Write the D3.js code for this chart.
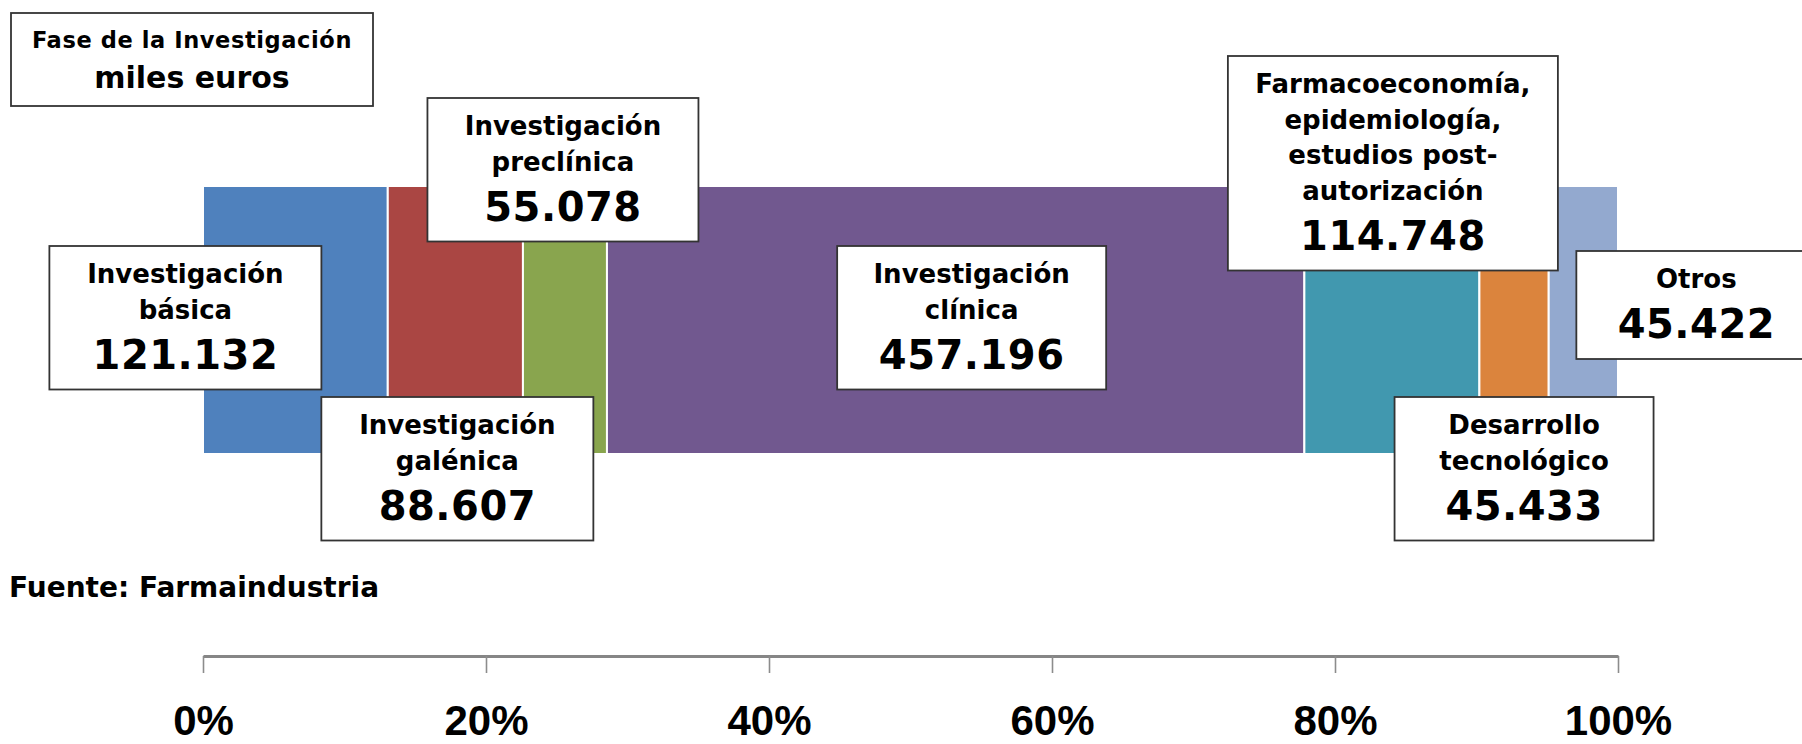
<!DOCTYPE html>
<html>
<head>
<meta charset="utf-8">
<script src="https://cdn.jsdelivr.net/npm/d3@7"></script>
<style>
    html, body { margin: 0; padding: 0; background: #fff; }
    svg { display: block; }
    .lbl { font-family: 'DejaVu Sans', sans-serif; font-weight: bold; fill: #000; }
    .tick text { font-family: 'Liberation Sans', Arial, sans-serif; font-weight: bold; font-size: 42px; fill: #000; }
</style>
</head>
<body>
<div id="chart"></div>
<script>
// fase de la investigacion, miles de euros
var categories = [
    ['Investigación', 'básica'],
    ['Investigación', 'galénica'],
    ['Investigación', 'preclínica'],
    ['Investigación', 'clínica'],
    ['Farmacoeconomía,', 'epidemiología,', 'estudios post-', 'autorización'],
    ['Desarrollo', 'tecnológico'],
    ['Otros']
];
var values = [121132, 88607, 55078, 457196, 114748, 45433, 45422];
var colors = ['#4F81BD', '#AA4643', '#89A54E', '#71588F', '#4198AF', '#DB843D', '#93A9CF'];
var tickValues = [0, 0.2, 0.4, 0.6, 0.8, 1];
var titleLines = ['Fase de la Investigación', 'miles euros'];
var source = 'Fuente: Farmaindustria';

// where each label box sits: offset from the segment centre, top, width
var boxLayout = [
    { dx: -110, top: 246, w: 272 },
    { dx: 2, top: 397, w: 272 },
    { dx: -2, top: 98, w: 271 },
    { dx: 16, top: 246, w: 269 },
    { dx: 1, top: 56, w: 330 },
    { dx: 10, top: 397, w: 259 },
    { dx: 113, top: 251, w: 240 }
];

var width = 1802, height = 744;
var svg = d3.select('#chart').append('svg')
    .attr('width', width)
    .attr('height', height);

var total = d3.sum(values);
var cum = 0;
var segments = values.map(function (v, i) {
    var d = { i: i, value: v, start: cum / total, end: (cum + v) / total };
    cum += v;
    return d;
});

var x = d3.scaleLinear().domain([0, 1]).range([203, 1618]);
var barTop = 186, barBottom = 454;

var es = d3.formatLocale({ decimal: ',', thousands: '.', grouping: [3], currency: ['', ' €'] });
var fmt = es.format(',d');

// stacked 100% bar
svg.append('g').selectAll('rect')
    .data(segments)
    .enter().append('rect')
    .attr('x', function (d) { return x(d.start); })
    .attr('y', barTop)
    .attr('width', function (d) { return x(d.end) - x(d.start); })
    .attr('height', barBottom - barTop)
    .attr('fill', function (d) { return colors[d.i]; })
    .attr('stroke', '#fff')
    .attr('stroke-width', 2);

// label boxes
var boxes = svg.append('g').selectAll('g')
    .data(segments)
    .enter().append('g')
    .attr('transform', function (d) {
        var b = boxLayout[d.i];
        var cx = x((d.start + d.end) / 2) + b.dx;
        return 'translate(' + cx + ',' + b.top + ')';
    });

boxes.append('rect')
    .attr('x', function (d) { return -boxLayout[d.i].w / 2; })
    .attr('y', 0)
    .attr('width', function (d) { return boxLayout[d.i].w; })
    .attr('height', function (d) { return 37 + (categories[d.i].length - 1) * 35.5 + 50 + 21; })
    .attr('fill', '#fff')
    .attr('stroke', '#333')
    .attr('stroke-width', 1.8);

boxes.each(function (d) {
    var g = d3.select(this);
    var lines = categories[d.i];
    lines.forEach(function (t, k) {
        g.append('text')
            .attr('class', 'lbl')
            .attr('text-anchor', 'middle')
            .attr('y', 37 + k * 35.5)
            .style('font-size', '26px')
            .text(t);
    });
    g.append('text')
        .attr('class', 'lbl')
        .attr('text-anchor', 'middle')
        .attr('y', 37 + (lines.length - 1) * 35.5 + 50)
        .style('font-size', '40px')
        .style('letter-spacing', '0.5px')
        .text(fmt(d.value));
});

// title box
var title = svg.append('g');
title.append('rect')
    .attr('x', 11).attr('y', 13)
    .attr('width', 362).attr('height', 93)
    .attr('fill', '#fff')
    .attr('stroke', '#333')
    .attr('stroke-width', 1.8);
title.append('text')
    .attr('class', 'lbl')
    .attr('x', 192).attr('y', 48)
    .attr('text-anchor', 'middle')
    .style('font-size', '22.5px')
    .style('letter-spacing', '0.6px')
    .text(titleLines[0]);
title.append('text')
    .attr('class', 'lbl')
    .attr('x', 192).attr('y', 88)
    .attr('text-anchor', 'middle')
    .style('font-size', '30px')
    .text(titleLines[1]);

svg.append('text')
    .attr('class', 'lbl')
    .attr('x', 9).attr('y', 597)
    .style('font-size', '28px')
    .text(source);

// percent axis
var axis = d3.axisBottom(x)
    .tickValues(tickValues)
    .tickFormat(d3.format('.0%'))
    .tickSize(17)
    .tickSizeOuter(0);

var ag = svg.append('g')
    .attr('transform', 'translate(0,656)')
    .call(axis);
ag.select('.domain')
    .attr('stroke', '#868686')
    .attr('stroke-width', 3);
ag.selectAll('.tick line')
    .attr('stroke', '#8c8c8c')
    .attr('stroke-width', 1.6);
ag.selectAll('.tick text')
    .attr('y', 79)
    .attr('dy', 0);
</script>
</body>
</html>
